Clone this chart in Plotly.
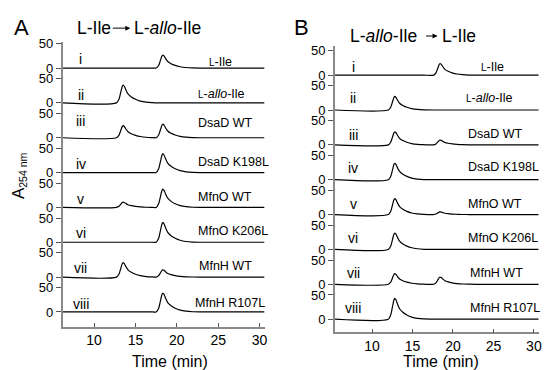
import plotly.graph_objects as go

# ---------------- data ----------------
roman = ["i", "ii", "iii", "iv", "v", "vi", "vii", "viii"]
samples = ["L-Ile", "L-allo-Ile", "DsaD WT", "DsaD K198L",
           "MfnO WT", "MfnO K206L", "MfnH WT", "MfnH R107L"]
x_ticks = [10, 15, 20, 25, 30]
y_tick_text = ["0", "50"]

# Panel A: L-Ile -> L-allo-Ile (time in min, A254 in mAU)
time_a = [6.2, 12.7, 13.0, 13.2, 13.4, 13.5, 13.65, 13.85, 14.1, 14.5, 15.0, 15.6, 16.3, 17.1,
          17.5, 17.8, 18.0, 18.2, 18.3, 18.45, 18.65, 18.9, 19.3, 19.8, 20.4, 21.1, 21.9, 22.8, 30.6]
a_i = [0, 0, 0, 0, 0, 0, 0, 0, 0, 0, 0, 0, 0, 0,
       0, 5.4, 14.9, 24.8, 27, 25.1, 19.4, 13.5, 8.9, 5.4, 2.7, 1.1, 0.3, 0, 0]
a_ii = [0, 0, 7.4, 20.4, 34.0, 37, 34.4, 26.6, 18.5, 12.2, 7.4, 3.7, 1.5, 0.4,
        0, 0, 0, 0, 0, 0, 0, 0, 0, 0, 0, 0, 0, 0, 0]
a_iii = [0, 0, 5.0, 13.8, 23.0, 25, 23.3, 18.0, 12.5, 8.3, 5.0, 2.5, 1.0, 0.3,
         0, 5.6, 15.4, 25.8, 28, 26.0, 20.2, 14.0, 9.2, 5.6, 2.8, 1.1, 0.3, 0, 0]
a_iv = [0, 0, 0, 0, 0, 0, 0, 0, 0, 0, 0, 0, 0, 0,
        0, 7.8, 21.5, 35.9, 39, 36.3, 28.1, 19.5, 12.9, 7.8, 3.9, 1.6, 0.4, 0, 0]
a_v = [0, 0, 2.2, 6.1, 10.1, 11, 10.2, 7.9, 5.5, 3.6, 2.2, 1.1, 0.4, 0.1,
       0, 7.6, 20.9, 35.0, 38, 35.3, 27.4, 19.0, 12.5, 7.6, 3.8, 1.5, 0.4, 0, 0]
a_vi = [0, 0, 0, 0, 0, 0, 0, 0, 0, 0, 0, 0, 0, 0,
        0, 8.2, 22.6, 37.7, 41, 38.1, 29.5, 20.5, 13.5, 8.2, 4.1, 1.6, 0.4, 0, 0]
a_vii = [0, 0, 6.0, 16.5, 27.6, 30, 27.9, 21.6, 15.0, 9.9, 6.0, 3.0, 1.2, 0.3,
         0, 3.0, 8.3, 13.8, 15, 14.0, 10.8, 7.5, 5.0, 3.0, 1.5, 0.6, 0.2, 0, 0]
a_viii = [0, 0, 0, 0, 0, 0, 0, 0, 0, 0, 0, 0, 0, 0,
          0, 7.8, 21.5, 35.9, 39, 36.3, 28.1, 19.5, 12.9, 7.8, 3.9, 1.6, 0.4, 0, 0]

# Panel B: L-allo-Ile -> L-Ile
time_b = [5.4, 12.0, 12.3, 12.5, 12.7, 12.8, 12.95, 13.15, 13.4, 13.8, 14.3, 14.9, 15.6, 16.4,
          17.6, 17.9, 18.1, 18.3, 18.4, 18.55, 18.75, 19.0, 19.4, 19.9, 20.5, 21.2, 22.0, 22.9, 30.6]
b_i = [0, 0, 0, 0, 0, 0, 0, 0, 0, 0, 0, 0, 0, 0,
       0, 4.8, 13.2, 22.1, 24, 22.3, 17.3, 12.0, 7.9, 4.8, 2.4, 1.0, 0.2, 0, 0]
b_ii = [0, 0, 5.6, 15.4, 25.8, 28, 26.0, 20.2, 14.0, 9.2, 5.6, 2.8, 1.1, 0.3,
        0, 0, 0, 0, 0, 0, 0, 0, 0, 0, 0, 0, 0, 0, 0]
b_iii = [0, 0, 5.4, 14.9, 24.8, 27, 25.1, 19.4, 13.5, 8.9, 5.4, 2.7, 1.1, 0.3,
         0, 2.0, 5.5, 9.2, 10, 9.3, 7.2, 5.0, 3.3, 2.0, 1.0, 0.4, 0.1, 0, 0]
b_iv = [0, 0, 6.8, 18.7, 31.3, 34, 31.6, 24.5, 17.0, 11.2, 6.8, 3.4, 1.4, 0.3,
        0, 0, 0, 0, 0, 0, 0, 0, 0, 0, 0, 0, 0, 0, 0]
b_v = [0, 0, 6.6, 18.2, 30.4, 33, 30.7, 23.8, 16.5, 10.9, 6.6, 3.3, 1.3, 0.3,
       0, 1.1, 3.0, 5.1, 5.5, 5.1, 4.0, 2.8, 1.8, 1.1, 0.6, 0.2, 0.1, 0, 0]
b_vi = [0, 0, 6.8, 18.7, 31.3, 34, 31.6, 24.5, 17.0, 11.2, 6.8, 3.4, 1.4, 0.3,
        0, 0, 0, 0, 0, 0, 0, 0, 0, 0, 0, 0, 0, 0, 0]
b_vii = [0, 0, 4.4, 12.1, 20.2, 22, 20.5, 15.8, 11.0, 7.3, 4.4, 2.2, 0.9, 0.2,
         0, 3.0, 8.3, 13.8, 15, 14.0, 10.8, 7.5, 5.0, 3.0, 1.5, 0.6, 0.2, 0, 0]
b_viii = [0, 0, 8.6, 23.7, 39.6, 43, 40.0, 31.0, 21.5, 14.2, 8.6, 4.3, 1.7, 0.4,
          0, 0, 0, 0, 0, 0, 0, 0, 0, 0, 0, 0, 0, 0, 0]

traces_a = [a_i, a_ii, a_iii, a_iv, a_v, a_vi, a_vii, a_viii]
traces_b = [b_i, b_ii, b_iii, b_iv, b_v, b_vi, b_vii, b_viii]

# ---------------- layout helpers ----------------
W, H = 547, 370
STEP = 72  # vertical offset between stacked chromatograms (axis units)
FONT = "Arial, Liberation Sans, sans-serif"
AXIS_GRAY = "#8a8a8a"


def px(x):
    return min(1.0, max(0.0, x / W))


def py(y):
    return min(1.0, max(0.0, 1 - y / H))


fig = go.Figure()

n = len(roman)
for k in range(n):
    off = (n - 1 - k) * STEP
    fig.add_trace(go.Scatter(x=time_a, y=[v + off for v in traces_a[k]], mode="lines",
                             line=dict(color="black", width=1.2, shape="spline", smoothing=0.8),
                             xaxis="x", yaxis="y", showlegend=False, hoverinfo="skip"))
    fig.add_trace(go.Scatter(x=time_b, y=[v + off for v in traces_b[k]], mode="lines",
                             line=dict(color="black", width=1.2, shape="spline", smoothing=0.8),
                             xaxis="x2", yaxis="y2", showlegend=False, hoverinfo="skip"))

tickvals = []
ticktext = []
for k in range(n):
    tickvals += [k * STEP, k * STEP + 50]
    ticktext += y_tick_text

common_y = dict(tickvals=tickvals, ticktext=ticktext, showgrid=False, zeroline=False,
                showline=True, linecolor=AXIS_GRAY, linewidth=1.5, ticks="outside",
                ticklen=5, tickcolor="#555", tickwidth=1,
                tickfont=dict(family=FONT, size=13, color="black"))
common_x = dict(tickvals=x_ticks, showgrid=False, zeroline=False, showline=True,
                linecolor=AXIS_GRAY, linewidth=1.5, ticks="inside", ticklen=4,
                tickcolor="#555", tickwidth=1,
                tickfont=dict(family=FONT, size=14, color="black"))

fig.update_layout(
    width=W, height=H, margin=dict(l=0, r=0, t=0, b=0),
    paper_bgcolor="white", plot_bgcolor="white",
    xaxis=dict(domain=[px(63), px(266)], range=[6.2, 30.6], anchor="y", **common_x),
    yaxis=dict(domain=[py(326), py(37)], range=[-30.5, 557], anchor="x", **common_y),
    xaxis2=dict(domain=[px(336.7), px(541.7)], range=[5.4, 30.6], anchor="y2", **common_x),
    yaxis2=dict(domain=[py(331.7), py(41)], range=[-27.2, 563.5], anchor="x2", **common_y),
)

ann = []


def text(x, y, s, size, xanchor="center", angle=0):
    ann.append(dict(x=px(x), y=py(y), xref="paper", yref="paper", text=s, showarrow=False,
                    xanchor=xanchor, yanchor="middle", textangle=angle,
                    font=dict(family=FONT, size=size, color="black")))


def fmt(label):
    sc = "<span style='font-size:10px'>L</span>"
    if label == "L-Ile":
        return sc + "-Ile"
    if label == "L-allo-Ile":
        return sc + "-<i>allo</i>-Ile"
    return label


# roman numerals and sample labels
roman_a_y = [54, 90, 117, 161, 196, 231, 266, 302.5]
label_a_x = [208, 197, 197, 197, 197, 197, 198, 194]
label_a_y = [57, 89.5, 118.5, 159, 194, 229, 264, 301.5]
roman_b_y = [62.5, 94, 131, 165, 201.5, 236, 271, 307]
label_b_x = [482, 467, 469, 469, 469, 469, 471, 471]
label_b_y = [62.5, 94, 130, 164, 201.5, 236, 271, 307]
for k in range(n):
    text(81, roman_a_y[k], roman[k], 14)
    text(label_a_x[k], label_a_y[k], fmt(samples[k]), 12.5, xanchor="left")
    text(355, roman_b_y[k], roman[k], 14)
    text(label_b_x[k], label_b_y[k], fmt(samples[k]), 12.5, xanchor="left")

# panel letters
text(22, 22, "A", 22)
text(303, 22, "B", 22)

# reaction headers
text(75, 22, "L-Ile", 17.5, xanchor="left")
text(133, 22, "L-<i>allo</i>-Ile", 17.5, xanchor="left")
text(350, 30, "L-<i>allo</i>-Ile", 17.5, xanchor="left")
text(442, 30, "L-Ile", 17.5, xanchor="left")
for (x0, x1, yy) in [(112, 131, 22.5), (427, 440, 30.5)]:
    ann.append(dict(x=px(x1), y=py(yy), xref="paper", yref="paper", ax=-(x1 - x0), ay=0,
                    axref="pixel", ayref="pixel", text="", showarrow=True, arrowhead=2,
                    arrowsize=1, arrowwidth=1, arrowcolor="black"))

# axis titles
text(19, 172, "A<span style='font-size:15px'><sub>254 nm</sub></span>", 17, angle=-90)
text(171, 361, "Time (min)", 16)
text(443, 361, "Time (min)", 16)

fig.update_layout(annotations=ann)
# the page's default 8px body margin would shift the figure; remove it
fig.write_html("out.html", config={"displayModeBar": False},
               post_script="document.body.style.margin='0px';")
